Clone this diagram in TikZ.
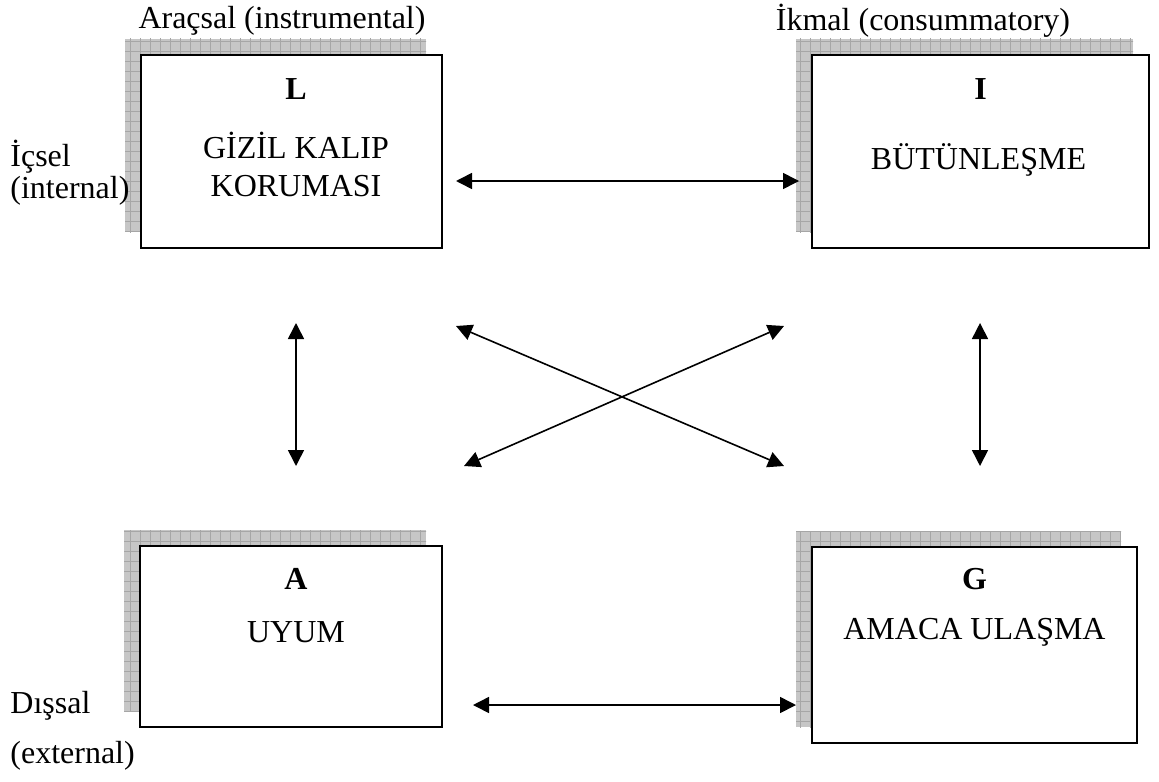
\documentclass[tikz,border=0pt]{standalone}
\usepackage{fontspec}
\setmainfont{Liberation Serif}
\usetikzlibrary{shadows,patterns.meta,arrows.meta}
\tikzstyle{block} = [rectangle, draw, line width=1pt, fill=white,
    general shadow={fill=gray!45, shadow xshift=-8pt, shadow yshift=8pt},
    general shadow={pattern={Hatch[angle=0,distance=5pt,line width=0.4pt]}, pattern color=gray!70, shadow xshift=-8pt, shadow yshift=8pt}]
\tikzstyle{line} = [draw, line width=0.8pt, {Triangle[length=8pt,width=8pt]}-{Triangle[length=8pt,width=8pt]}]
\tikzstyle{txt} = [font=\fontsize{16}{19}\selectfont, align=center, inner sep=0pt]
\tikzstyle{side} = [txt, anchor=west]

\begin{document}
\begin{tikzpicture}[x=0.5pt, y=-0.5pt]
	\useasboundingbox (0,0) rectangle (1159,781);

		\node [block, minimum width=150.5pt, minimum height=96.5pt] (L) at (291.5,151.5) {};
		\node [block, minimum width=168.5pt, minimum height=96.5pt] (I) at (980.5,151.5) {};
		\node [block, minimum width=151pt, minimum height=90.5pt] (A) at (291,636.5) {};
		\node [block, minimum width=162.5pt, minimum height=98pt] (G) at (974.5,645) {};

		\node [txt] (Lname) at ([shift={(4.5,35)}]L.north) {\textbf{L}};
		\node [txt] (Ltext) at ([shift={(4.5,110)}]L.north) {GİZİL KALIP\\KORUMASI};
		\node [txt] (Iname) at ([shift={(0,35)}]I.north) {\textbf{I}};
		\node [txt] (Itext) at ([shift={(-2,106)}]I.north) {BÜTÜNLEŞME};
		\node [txt] (Aname) at ([shift={(5,34)}]A.north) {\textbf{A}};
		\node [txt] (Atext) at ([shift={(5,87)}]A.north) {UYUM};
		\node [txt] (Gname) at ([shift={(0,33)}]G.north) {\textbf{G}};
		\node [txt] (Gtext) at ([shift={(0,86)}]G.north) {AMACA ULAŞMA};

		\node [txt] (instr) at (282,21) {Araçsal (instrumental)};
		\node [txt] (cons) at (923,21) {İkmal (consummatory)};
		\node [side] (ic) at (10,157) {İçsel};
		\node [side] (icen) at (10,191) {(internal)};
		\node [side] (dis) at (10,706) {Dışsal};
		\node [side] (disen) at (10,756) {(external)};

		\path [line] ([shift={(13,29.5)}]L.east) -- ([shift={(-12,29.5)}]I.west);
		\path [line] ([shift={(30,68.5)}]A.east) -- ([shift={(-15,60)}]G.west);

		\path [line] ([shift={(4.5,74)}]L.south) -- ([shift={(5,-79)}]A.north);
		\path [line] ([shift={(-0.5,74)}]I.south) -- ([shift={(5.5,-80)}]G.north);

		\path [line] ([shift={(13,77)}]L.south east) -- ([shift={(-27,-80)}]G.north west);
		\path [line] ([shift={(-27,77)}]I.south west) -- ([shift={(21,-79)}]A.north east);
	\end{tikzpicture}
\end{document}
